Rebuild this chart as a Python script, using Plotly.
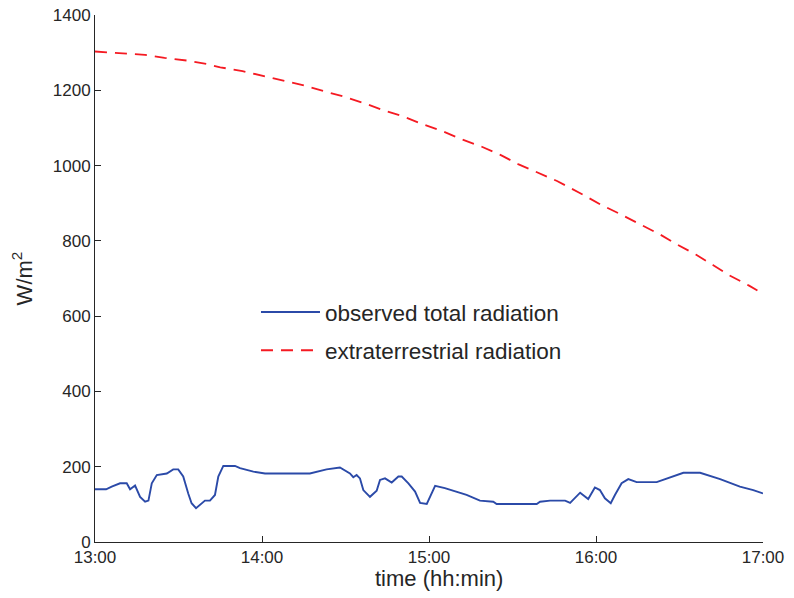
import plotly.graph_objects as go

# observed total radiation (minutes after 13:00, W/m2)
obs_min = [0, 4, 6, 9, 11.4, 12.6, 14.4, 16.2, 18, 19.2, 20.4, 22.2, 25.8, 28.1, 29.9, 31.7,
           33.5, 34.7, 36.3, 38.3, 39.5, 41.3, 43.1, 44.3, 46.1, 50.3, 52.1, 56.9, 61.1, 77.2,
           80.8, 83.2, 88, 89.8, 91.6, 92.8, 94, 95.2, 96.4, 98.8, 101.2, 102.4, 104.2, 106.6,
           109, 110.2, 112.6, 115, 116.8, 119.2, 120.4, 122.2, 125.7, 128.7, 133.5, 138.3,
           143.1, 144.3, 158.7, 159.9, 163.5, 168.9, 170.7, 174.3, 177.2, 179.6, 181.4, 183.2,
           185.3, 186.8, 189.2, 191.6, 194.6, 201.8, 207.8, 211.4, 217.4, 224.6, 231.7, 236.5, 240]
obs_val = [140, 140, 147, 156, 156, 140, 150, 120, 107, 110, 156, 178, 182, 193, 193, 174,
           129, 103, 90, 103, 110, 110, 125, 174, 202, 202, 196, 187, 182, 182,
           189, 193, 198, 191, 182, 172, 178, 169, 138, 120, 136, 165, 169, 158,
           174, 174, 156, 134, 104, 101, 120, 149, 143, 136, 125, 110,
           107, 101, 101, 107, 110, 110, 104, 131, 114, 145, 138, 116,
           103, 125, 156, 167, 159, 159, 175, 184, 184, 167, 147, 138, 129]

# extraterrestrial radiation
ext_min = [0, 10, 18, 25, 33, 40, 45, 53, 60, 68, 75, 82, 90, 97, 104, 111, 118, 125, 132,
           139, 146, 152, 159, 166, 174, 182, 189, 196, 203, 209, 216, 222, 228, 235, 238]
ext_val = [1303, 1298, 1294, 1286, 1279, 1270, 1261, 1251, 1239, 1227, 1213, 1198, 1182, 1165,
           1146, 1130, 1109, 1091, 1069, 1050, 1027, 1004, 982, 959, 928, 895, 870, 843, 817,
           791, 763, 736, 708, 681, 668]

x_tick_vals = [0, 60, 120, 180, 240]
x_tick_text = ["13:00", "14:00", "15:00", "16:00", "17:00"]
y_tick_vals = [0, 200, 400, 600, 800, 1000, 1200, 1400]
x_title = "time (hh:min)"
y_title = "W/m<sup>2</sup>"

font_fam = "Liberation Sans, Arial, sans-serif"
axcol = "#262626"

fig = go.Figure()
fig.add_trace(go.Scatter(x=obs_min, y=obs_val, mode="lines", name="observed total radiation",
                         line=dict(color="#2b4aa8", width=1.9), legendgroup="a"))
fig.add_trace(go.Scatter(x=ext_min, y=ext_val, mode="lines", name="extraterrestrial radiation",
                         line=dict(color="#f51a22", width=1.8, dash="12px,8px"), legendgroup="b"))

fig.add_annotation(text=x_title, xref="paper", yref="paper", x=0.5, y=0, xshift=10,
                   yshift=-36, xanchor="center", yanchor="middle", showarrow=False,
                   font=dict(size=22, color=axcol))

fig.update_layout(
    width=794, height=598,
    margin=dict(l=95, r=31, t=15, b=56, autoexpand=False),
    paper_bgcolor="white", plot_bgcolor="white",
    font=dict(family=font_fam, size=17, color=axcol),
    legend=dict(x=0.241, y=0.4765, xanchor="left", yanchor="top",
                font=dict(size=22.5, color=axcol), bgcolor="rgba(0,0,0,0)",
                itemwidth=59, traceorder="grouped", tracegroupgap=6),
    xaxis=dict(range=[0, 240], tickvals=x_tick_vals, ticktext=x_tick_text, automargin=False,
               showgrid=False, zeroline=False, showline=True, linecolor=axcol, linewidth=1,
               ticks="inside", ticklen=6, tickcolor=axcol, ticklabeloverflow="allow"),
    yaxis=dict(range=[0, 1400], tickvals=y_tick_vals, automargin=False,
               showgrid=False, zeroline=False, showline=True, linecolor=axcol, linewidth=1,
               ticks="inside", ticklen=6, tickcolor=axcol, ticklabeloverflow="allow",
               title=dict(text=y_title, font=dict(size=22), standoff=14)),
)

fig.write_html("out.html", config={"displayModeBar": False},
               post_script="document.body.style.margin='0';")
